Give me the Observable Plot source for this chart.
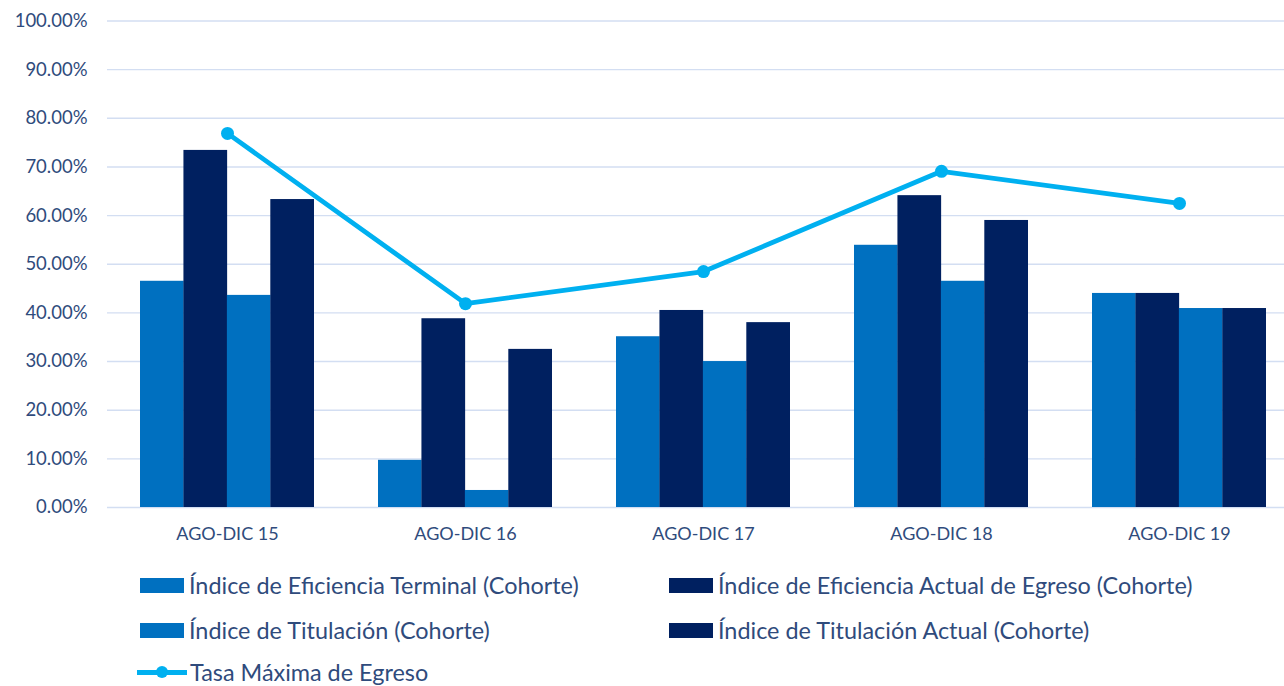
<!DOCTYPE html>
<html><head><meta charset="utf-8">
<script src="https://cdn.jsdelivr.net/npm/d3@7"></script>
<script src="https://cdn.jsdelivr.net/npm/@observablehq/plot@0.6"></script>
<style>
body{margin:0;background:#fff;font-family:Lato,sans-serif;}
#wrap{position:relative;width:1284px;height:686px;overflow:hidden;background:#fff;}
.leg{position:absolute;display:flex;align-items:center;height:24px;line-height:24px;color:#2f4b7c;font-size:23.4px;white-space:nowrap;}
.sw{width:44px;height:15px;margin-right:5px;}
.lsw{position:relative;width:50px;height:16px;margin-right:3px;}
.lsw .ln{position:absolute;left:0;right:0;top:6px;height:4.5px;background:#00b0f0;}
.lsw .dt{position:absolute;left:19px;top:2px;width:12px;height:12px;border-radius:50%;background:#00b0f0;}
</style></head><body><div id="wrap"></div>
<script>
const categories = ["AGO-DIC 15", "AGO-DIC 16", "AGO-DIC 17", "AGO-DIC 18", "AGO-DIC 19"];
const eficienciaTerminal = [46.5, 9.7, 35.1, 53.9, 44.0];
const eficienciaActual = [73.4, 38.8, 40.5, 64.1, 44.0];
const titulacion = [43.6, 3.5, 30.0, 46.5, 40.9];
const titulacionActual = [63.3, 32.5, 38.0, 59.0, 40.9];
const tasaMaxima = [76.9, 41.9, 48.5, 69.1, 62.5];
const seriesNames = [
  "Índice de Eficiencia Terminal (Cohorte)",
  "Índice de Eficiencia Actual de Egreso (Cohorte)",
  "Índice de Titulación (Cohorte)",
  "Índice de Titulación Actual (Cohorte)"
];
const lineName = "Tasa Máxima de Egreso";
const yTicks = [0, 10, 20, 30, 40, 50, 60, 70, 80, 90, 100];

const barSeries = [eficienciaTerminal, eficienciaActual, titulacion, titulacionActual];
const barColors = ["#0070c0", "#002060", "#0070c0", "#002060"];
const lineColor = "#00b0f0";
const textColor = "#2f4b7c";

const x0 = 108, x1 = 1298, pInner = 0.27, pOuter = 0.135;
const step = (x1 - x0) / (categories.length - pInner + 2 * pOuter);
const bw = step * (1 - pInner);
const q = bw / 4;

const barMarks = barSeries.map((vals, i) =>
  Plot.barY(categories, {
    x: d => d,
    y: (d, j) => vals[j],
    fill: barColors[i],
    insetLeft: i * q,
    insetRight: (3 - i) * q
  })
);

const chart = Plot.plot({
  width: 1284,
  height: 560,
  marginLeft: 107,
  marginRight: 0,
  marginTop: 20.5,
  marginBottom: 53,
  style: {fontFamily: "Lato, sans-serif", background: "#fff", overflow: "hidden"},
  x: {domain: categories, range: [x0, x1], paddingInner: pInner, paddingOuter: pOuter},
  y: {domain: [0, 100]},
  marks: [
    Plot.gridY(yTicks, {stroke: "#d3def2", strokeOpacity: 1, strokeWidth: 1.4}),
    Plot.axisY(yTicks, {tickSize: 0, tickPadding: 20, tickFormat: d => d.toFixed(2) + "%", fontSize: 18.5, color: textColor, label: null}),
    Plot.axisX({tickSize: 0, tickPadding: 20, fontSize: 18, color: textColor, label: null}),
    ...barMarks,
    Plot.line(categories, {x: d => d, y: (d, j) => tasaMaxima[j], stroke: lineColor, strokeWidth: 4.8, style: "filter: drop-shadow(1px 2px 1.5px rgba(0,0,0,0.25))"}),
    Plot.dot(categories, {x: d => d, y: (d, j) => tasaMaxima[j], fill: lineColor, r: 6.5})
  ]
});

const wrap = document.getElementById("wrap");
wrap.appendChild(chart);

function addLeg(name, color, left, top, isLine) {
  const el = document.createElement("div");
  el.className = "leg";
  el.style.left = left + "px";
  el.style.top = top + "px";
  if (isLine) {
    el.innerHTML = `<div class="lsw"><div class="ln"></div><div class="dt"></div></div><span>${name}</span>`;
  } else {
    el.innerHTML = `<div class="sw" style="background:${color}"></div><span>${name}</span>`;
  }
  wrap.appendChild(el);
}
addLeg(seriesNames[0], barColors[0], 140, 573);
addLeg(seriesNames[1], barColors[1], 669, 573);
addLeg(seriesNames[2], barColors[2], 140, 618);
addLeg(seriesNames[3], barColors[3], 669, 618);
addLeg(lineName, lineColor, 137, 660, true);
</script></body></html>
